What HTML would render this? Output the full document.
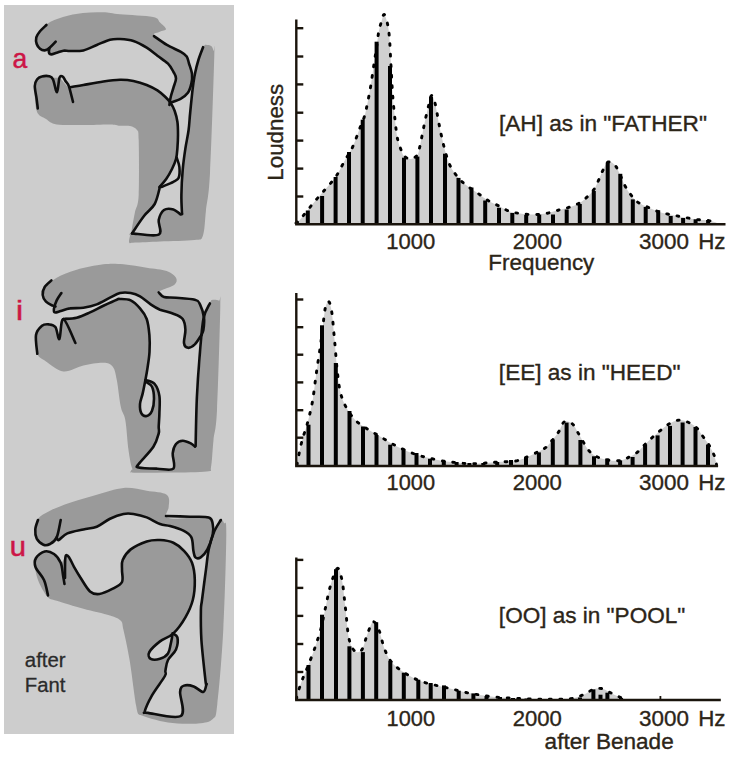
<!DOCTYPE html>
<html><head><meta charset="utf-8"><style>html,body{margin:0;padding:0;background:#fff;width:749px;height:771px;overflow:hidden}
text{font-family:"Liberation Sans",sans-serif}</style></head><body>
<svg width="749" height="771" viewBox="0 0 749 771" style="display:block">
<rect x="0" y="0" width="749" height="771" fill="#ffffff"/>
<rect x="4" y="5" width="230" height="729" fill="#cdcdcd"/>
<path d="M47.0 24.0 C51.4 20.9 57.0 18.8 63.0 17.0 C69.0 15.2 76.3 13.8 83.0 13.0 C89.7 12.2 96.8 12.1 103.0 12.3 C109.2 12.5 111.7 13.5 120.0 14.3 C128.3 15.1 146.3 15.7 153.0 17.0 C159.7 18.4 157.8 20.4 160.0 22.4 C162.2 24.4 166.0 27.4 166.0 29.0 C166.0 30.6 162.0 30.7 160.0 31.7 C158.0 32.7 152.8 32.8 154.0 35.0 C155.2 37.2 162.4 42.1 166.9 44.9 C171.4 47.7 177.6 50.0 180.9 51.9 C184.2 53.8 185.3 54.6 186.7 56.5 C188.0 58.4 188.1 60.6 189.0 63.5 C189.9 66.4 191.6 70.7 192.0 74.0 C192.4 77.3 192.1 80.3 191.4 83.4 C190.7 86.5 189.7 90.3 187.9 92.8 C186.2 95.3 183.8 96.9 180.9 98.6 C178.0 100.2 172.3 102.5 170.4 102.7 C168.5 102.9 168.9 102.5 169.4 100.0 C169.9 97.5 172.3 91.4 173.4 87.8 C174.5 84.2 176.0 81.1 176.0 78.4 C176.0 75.7 174.7 74.2 173.4 71.8 C172.1 69.3 170.7 66.4 168.0 63.7 C165.3 61.0 161.0 58.4 157.4 55.7 C153.8 53.0 150.7 50.2 146.7 47.7 C142.7 45.2 137.8 42.5 133.4 41.0 C129.0 39.5 123.9 39.2 120.0 39.0 C116.1 38.8 113.9 38.7 110.0 39.7 C106.1 40.7 101.2 43.2 96.8 45.0 C92.4 46.8 87.9 49.4 83.4 50.4 C78.9 51.4 74.5 50.6 70.0 51.0 C65.5 51.4 60.0 52.3 56.7 53.0 C53.4 53.7 51.8 55.4 50.0 55.0 C48.2 54.6 47.5 51.4 46.0 50.4 C44.5 49.4 42.4 50.1 40.7 49.0 C39.0 47.9 36.7 45.9 36.0 43.7 C35.3 41.5 34.9 39.0 36.7 35.7 C38.5 32.4 42.6 27.1 47.0 24.0Z" fill="#9a9a9a"/>
<path d="M36.7 111.0 C34.8 105.3 34.5 90.3 34.7 85.0 C34.9 79.7 36.1 80.4 38.0 79.0 C39.9 77.6 43.4 76.6 46.0 76.4 C48.6 76.2 51.1 77.5 53.4 77.8 C55.7 78.1 57.9 77.2 60.0 78.4 C62.1 79.6 64.3 83.5 66.0 85.0 C67.7 86.5 67.1 87.2 70.0 87.2 C72.9 87.2 77.8 86.0 83.4 85.0 C89.0 84.0 97.3 82.4 103.4 81.5 C109.5 80.6 115.0 79.9 120.0 79.8 C125.0 79.7 129.0 80.1 133.4 81.0 C137.8 81.9 142.7 83.4 146.7 85.0 C150.7 86.6 154.3 88.4 157.4 90.4 C160.5 92.4 163.2 94.9 165.4 97.0 C167.6 99.1 169.1 100.7 170.7 103.0 C172.2 105.3 173.6 107.9 174.7 111.0 C175.8 114.1 176.8 117.7 177.4 121.7 C178.0 125.7 178.0 130.6 178.0 135.0 C178.0 139.4 177.6 144.4 177.4 148.4 C177.2 152.4 177.4 155.9 176.7 159.0 C176.0 162.1 175.1 163.7 173.4 167.0 C171.7 170.3 169.0 175.7 166.7 179.0 C164.4 182.3 161.4 182.8 159.4 187.0 C157.4 191.2 157.3 199.2 154.7 204.0 C152.1 208.8 147.8 211.1 144.0 216.0 C140.2 220.9 134.2 230.1 132.0 233.4 C129.8 236.7 130.9 237.4 131.0 236.0 C131.1 234.6 131.8 229.0 132.5 225.0 C133.2 221.0 134.0 217.0 135.0 212.0 C136.0 207.0 138.1 207.0 138.7 195.0 C139.3 183.0 139.0 150.8 138.7 140.0 C138.4 129.2 138.4 132.3 137.0 130.0 C135.6 127.7 132.8 126.7 130.0 126.0 C127.2 125.3 123.3 126.0 120.0 125.7 C116.7 125.4 116.1 124.5 110.0 124.4 C103.9 124.3 92.3 125.0 83.4 125.0 C74.5 125.0 62.9 125.4 56.7 124.4 C50.5 123.4 49.3 121.2 46.0 119.0 C42.7 116.8 38.6 116.7 36.7 111.0Z" fill="#9a9a9a"/>
<path d="M129.3 242.7 C130.1 243.8 129.9 242.8 135.0 242.6 C140.1 242.4 150.1 241.8 160.0 241.4 C169.9 241.0 187.2 240.9 194.3 240.0 C201.5 239.1 201.0 240.7 202.9 235.7 C204.8 230.7 204.8 220.5 206.0 210.0 C207.2 199.5 208.6 198.6 210.0 172.9 C211.4 147.2 213.7 76.0 214.3 55.7 C214.9 35.4 214.1 52.6 213.6 51.0 C213.1 49.4 212.6 47.2 211.5 46.2 C210.4 45.2 208.3 44.9 207.0 45.0 C205.7 45.1 205.1 43.9 203.7 46.6 C202.3 49.3 200.3 55.5 198.8 61.0 C197.3 66.5 195.9 73.5 194.8 79.8 C193.7 86.0 192.9 91.5 192.0 98.5 C191.1 105.5 190.5 113.4 189.4 121.7 C188.3 130.0 186.5 140.4 185.4 148.4 C184.3 156.4 183.4 162.0 182.7 169.8 C182.0 177.6 181.5 187.6 181.4 195.0 C181.3 202.4 182.2 210.8 182.0 214.0 C181.8 217.2 181.4 214.8 180.0 214.0 C178.6 213.2 176.1 210.1 173.4 209.4 C170.7 208.7 166.4 208.2 164.0 210.0 C161.6 211.8 159.6 215.9 158.7 220.0 C157.8 224.1 163.1 232.5 158.7 234.7 C154.2 236.9 136.8 233.2 132.0 233.4 C127.2 233.6 130.4 234.4 130.0 236.0 C129.6 237.6 128.5 241.6 129.3 242.7Z" fill="#9a9a9a"/>
<path d="M46.4 25.0 C45.3 26.1 41.7 29.2 40.0 31.3 C38.3 33.4 36.8 35.3 36.3 37.4 C35.8 39.5 36.1 42.1 36.7 44.0 C37.3 45.9 38.7 47.6 40.0 48.7 C41.3 49.8 43.1 50.5 44.7 50.4 C46.3 50.3 47.6 49.5 49.4 48.0 C51.2 46.5 54.7 42.8 55.7 41.7" fill="none" stroke="#0e0e0e" stroke-width="2.6" stroke-linecap="round" stroke-linejoin="round"/>
<path d="M49.4 48.0 C49.3 48.8 48.7 51.6 49.0 52.7 C49.3 53.8 50.1 54.4 51.4 54.4 C52.7 54.4 54.7 53.3 56.7 52.7 C58.7 52.1 61.2 51.0 63.4 50.7 C65.6 50.4 66.7 51.0 70.0 51.0 C73.3 51.0 78.9 51.4 83.4 50.4 C87.9 49.4 92.4 46.8 96.8 45.0 C101.2 43.2 106.1 40.7 110.0 39.7 C113.9 38.7 116.1 38.8 120.0 39.0 C123.9 39.2 129.0 39.5 133.4 41.0 C137.8 42.5 142.7 45.2 146.7 47.7 C150.7 50.2 153.8 53.0 157.4 55.7 C161.0 58.4 165.3 61.0 168.0 63.7 C170.7 66.4 172.1 69.3 173.4 71.8 C174.7 74.2 176.0 75.7 176.0 78.4 C176.0 81.1 174.3 84.7 173.4 87.8 C172.5 90.9 171.4 94.1 170.7 97.0 C170.0 99.9 169.6 103.7 169.4 105.0" fill="none" stroke="#0e0e0e" stroke-width="2.6" stroke-linecap="round" stroke-linejoin="round"/>
<path d="M154.0 36.1 C156.2 37.6 162.4 42.3 166.9 44.9 C171.4 47.5 177.6 50.0 180.9 51.9 C184.2 53.8 185.3 54.6 186.7 56.5 C188.0 58.4 188.1 60.6 189.0 63.5 C189.9 66.4 191.6 70.7 192.0 74.0 C192.4 77.3 192.1 80.3 191.4 83.4 C190.7 86.5 189.7 90.3 187.9 92.8 C186.2 95.3 183.8 96.9 180.9 98.6 C178.0 100.2 172.2 102.0 170.4 102.7" fill="none" stroke="#0e0e0e" stroke-width="2.6" stroke-linecap="round" stroke-linejoin="round"/>
<path d="M37.8 108.5 C37.6 106.8 37.0 101.8 36.5 98.0 C36.0 94.2 34.7 89.1 34.8 86.0 C34.9 82.9 35.8 81.1 37.0 79.5 C38.2 77.9 39.8 77.1 41.8 76.6 C43.8 76.0 47.1 75.7 49.0 76.2 C50.9 76.7 51.7 76.7 53.0 79.4 C54.3 82.1 55.9 92.5 57.0 92.2 C58.1 91.9 58.5 80.4 59.5 77.8 C60.5 75.2 61.7 76.1 62.7 76.6 C63.7 77.1 64.5 79.3 65.5 81.0 C66.5 82.7 67.8 83.1 69.0 86.6 C70.2 90.1 72.3 99.4 73.0 101.9" fill="none" stroke="#0e0e0e" stroke-width="2.6" stroke-linecap="round" stroke-linejoin="round"/>
<path d="M70.0 87.2 C72.2 86.8 77.8 86.0 83.4 85.0 C89.0 84.0 97.3 82.4 103.4 81.5 C109.5 80.6 115.0 79.9 120.0 79.8 C125.0 79.7 129.0 80.1 133.4 81.0 C137.8 81.9 142.7 83.4 146.7 85.0 C150.7 86.6 154.3 88.4 157.4 90.4 C160.5 92.4 163.2 94.9 165.4 97.0 C167.6 99.1 169.1 100.7 170.7 103.0 C172.2 105.3 173.6 107.9 174.7 111.0 C175.8 114.1 176.8 117.7 177.4 121.7 C178.0 125.7 178.0 130.6 178.0 135.0 C178.0 139.4 177.7 144.4 177.4 148.4 C177.1 152.4 176.9 155.6 176.0 159.0 C175.1 162.4 173.6 165.7 172.0 169.0 C170.4 172.3 168.3 176.0 166.2 179.0 C164.1 182.0 160.5 185.7 159.4 187.0" fill="none" stroke="#0e0e0e" stroke-width="2.6" stroke-linecap="round" stroke-linejoin="round"/>
<path d="M203.1 47.2 C202.3 49.3 199.8 55.5 198.4 60.0 C197.0 64.5 195.9 69.1 194.9 74.0 C193.9 78.9 193.4 82.9 192.6 89.3 C191.8 95.7 190.9 105.7 190.2 112.5 C189.5 119.3 189.4 124.0 188.6 130.0 C187.8 136.0 186.4 141.8 185.4 148.4 C184.4 155.0 183.4 162.0 182.7 169.8 C182.0 177.6 181.5 187.6 181.4 195.0 C181.3 202.4 181.9 210.8 182.0 214.0" fill="none" stroke="#0e0e0e" stroke-width="2.6" stroke-linecap="round" stroke-linejoin="round"/>
<path d="M176.7 157.7 C177.1 159.2 179.1 163.7 179.4 167.0 C179.7 170.3 179.7 175.3 178.7 177.8 C177.7 180.3 176.3 180.3 173.4 181.8 C170.5 183.3 163.4 186.1 161.4 187.0" fill="none" stroke="#0e0e0e" stroke-width="2.6" stroke-linecap="round" stroke-linejoin="round"/>
<path d="M160.0 186.7 C159.1 189.6 157.4 199.1 154.7 204.0 C152.0 208.9 147.8 211.1 144.0 216.0 C140.2 220.9 134.0 230.5 132.0 233.4" fill="none" stroke="#0e0e0e" stroke-width="2.6" stroke-linecap="round" stroke-linejoin="round"/>
<path d="M132.0 233.4 C136.4 233.6 154.2 236.9 158.7 234.7 C163.1 232.5 157.8 224.1 158.7 220.0 C159.6 215.9 161.6 211.8 164.0 210.0 C166.4 208.2 170.7 208.7 173.4 209.4 C176.1 210.1 178.6 213.2 180.0 214.0 C181.4 214.8 181.7 214.0 182.0 214.0" fill="none" stroke="#0e0e0e" stroke-width="2.6" stroke-linecap="round" stroke-linejoin="round"/>
<path d="M44.7 288.4 C47.0 285.5 51.4 280.8 56.7 277.7 C62.0 274.6 68.9 271.9 76.7 269.7 C84.5 267.5 95.6 265.2 103.4 264.3 C111.2 263.4 116.3 263.7 123.5 264.3 C130.7 264.9 139.5 266.6 146.7 267.7 C153.9 268.8 161.8 269.3 166.7 271.0 C171.6 272.7 174.7 275.5 176.0 277.7 C177.3 279.9 176.9 282.4 174.7 284.4 C172.5 286.4 165.4 288.4 162.7 289.7 C160.0 291.0 158.5 291.2 158.7 292.4 C158.9 293.6 161.1 296.1 164.0 297.0 C166.9 297.9 170.9 297.2 176.0 297.7 C181.1 298.1 190.8 298.6 194.8 299.7 C198.8 300.8 198.5 301.4 200.0 304.4 C201.5 307.4 203.4 313.5 204.0 317.7 C204.6 321.9 203.8 326.9 203.4 329.8 C203.0 332.7 202.8 332.9 201.4 335.0 C200.0 337.1 197.0 340.6 194.8 342.7 C192.6 344.8 189.8 347.8 188.0 347.8 C186.2 347.9 184.4 346.0 184.0 343.0 C183.6 340.0 185.6 333.8 185.4 329.8 C185.2 325.8 184.7 321.7 182.7 319.0 C180.7 316.3 177.2 315.2 173.4 313.7 C169.6 312.1 163.8 311.2 160.0 309.7 C156.2 308.1 154.0 306.6 150.7 304.4 C147.4 302.2 143.3 298.3 140.0 296.4 C136.7 294.5 134.0 293.6 130.7 293.0 C127.4 292.4 123.5 292.2 120.0 293.0 C116.5 293.8 113.9 295.8 110.0 297.7 C106.1 299.6 101.2 302.7 96.8 304.4 C92.4 306.1 87.9 307.0 83.4 307.7 C78.9 308.4 73.8 307.8 70.0 308.4 C66.2 308.9 63.2 310.3 60.7 311.0 C58.2 311.7 56.0 313.3 54.7 312.4 C53.4 311.5 54.2 307.5 52.7 305.7 C51.2 303.9 47.7 303.5 46.0 301.7 C44.3 299.9 42.9 297.2 42.7 295.0 C42.5 292.8 42.4 291.3 44.7 288.4Z" fill="#9a9a9a"/>
<path d="M37.3 353.8 C35.6 349.4 35.2 339.7 36.0 335.0 C36.8 330.3 39.9 327.6 42.0 325.8 C44.1 324.0 46.5 324.2 48.7 324.4 C50.9 324.6 53.6 324.6 55.4 327.0 C57.2 329.4 58.1 340.3 59.4 339.0 C60.7 337.7 60.5 322.6 63.4 319.0 C66.3 315.4 72.3 318.8 76.7 317.7 C81.1 316.6 85.5 314.4 90.0 312.4 C94.5 310.4 98.9 307.8 103.4 305.7 C107.9 303.6 114.0 300.8 116.8 299.7 C119.6 298.6 117.7 298.9 120.0 299.0 C122.3 299.1 127.4 298.8 130.7 300.4 C134.0 302.0 137.3 305.3 140.0 308.4 C142.7 311.5 145.1 314.6 146.7 319.0 C148.3 323.4 148.9 329.5 149.4 335.0 C149.9 340.5 149.8 346.5 149.5 352.0 C149.2 357.5 148.2 363.3 147.5 368.0 C146.8 372.7 144.2 377.3 145.4 380.0 C146.6 382.7 152.4 381.3 154.7 384.0 C157.0 386.7 158.6 391.1 159.4 396.0 C160.2 400.9 159.5 408.3 159.4 413.4 C159.3 418.5 158.8 423.5 158.7 426.8 C158.6 430.1 159.6 430.1 158.7 433.4 C157.8 436.7 156.7 441.6 153.4 446.7 C150.1 451.8 141.1 460.6 138.7 464.0 C136.2 467.4 139.1 466.4 138.7 467.4 C138.2 468.4 137.1 469.9 136.0 470.0 C134.9 470.1 133.2 471.3 132.0 468.0 C130.8 464.7 129.6 458.0 128.5 450.0 C127.4 442.0 126.6 427.2 125.3 420.0 C124.0 412.8 122.2 413.5 120.8 406.8 C119.4 400.1 118.1 386.7 116.8 380.0 C115.5 373.3 115.0 369.6 112.8 366.7 C110.6 363.8 108.3 362.9 103.4 362.7 C98.5 362.5 90.1 363.9 83.4 365.4 C76.7 366.8 69.6 372.1 63.4 371.4 C57.2 370.7 50.4 364.3 46.0 361.4 C41.6 358.5 39.0 358.2 37.3 353.8Z" fill="#9a9a9a"/>
<path d="M145.4 381.4 C147.0 380.3 150.6 383.8 152.0 386.7 C153.4 389.6 154.0 394.7 154.0 398.7 C154.0 402.7 153.2 407.9 152.0 410.8 C150.8 413.7 148.5 415.6 146.7 416.0 C144.9 416.4 142.5 415.4 141.4 413.4 C140.3 411.4 139.8 407.3 140.0 404.0 C140.2 400.7 141.8 397.2 142.7 393.4 C143.6 389.6 143.8 382.5 145.4 381.4Z" fill="#cdcdcd"/>
<path d="M131.0 471.0 C131.2 471.6 127.5 472.4 134.0 472.7 C140.5 472.9 157.9 472.7 170.0 472.5 C182.1 472.3 200.0 472.3 206.8 471.4 C213.6 470.5 209.9 472.2 211.0 467.0 C212.1 461.8 212.5 449.5 213.5 440.0 C214.5 430.5 215.9 432.3 217.0 410.0 C218.1 387.7 220.0 324.2 220.3 306.0 C220.6 287.8 220.4 301.8 219.0 300.8 C217.6 299.8 213.5 299.6 212.0 300.0 C210.5 300.4 211.0 300.9 209.9 303.4 C208.8 305.9 206.6 310.6 205.4 315.0 C204.2 319.4 203.7 321.2 202.8 329.8 C201.9 338.4 200.9 356.1 200.0 366.7 C199.1 377.3 198.1 384.5 197.4 393.4 C196.7 402.3 196.3 411.1 196.0 420.0 C195.7 428.9 196.3 442.8 195.4 446.7 C194.5 450.6 192.9 444.4 190.8 443.4 C188.7 442.4 185.2 440.6 182.7 440.7 C180.2 440.8 177.7 441.9 176.0 444.0 C174.3 446.1 173.1 449.3 172.7 453.4 C172.3 457.5 175.9 466.1 173.4 468.7 C170.9 471.2 163.2 468.9 157.4 468.7 C151.6 468.5 142.8 467.3 138.7 467.4 C134.6 467.4 134.3 468.4 133.0 469.0 C131.7 469.6 130.8 470.4 131.0 471.0Z" fill="#9a9a9a"/>
<path d="M51.4 280.4 C50.3 281.5 46.2 284.6 44.7 287.0 C43.2 289.4 42.5 292.6 42.7 295.0 C42.9 297.4 44.3 299.9 46.0 301.7 C47.7 303.5 51.1 304.9 52.7 305.7 C54.3 306.5 55.0 306.4 55.5 306.5" fill="none" stroke="#0e0e0e" stroke-width="2.6" stroke-linecap="round" stroke-linejoin="round"/>
<path d="M61.4 293.0 C60.6 294.2 57.9 297.8 56.7 300.4 C55.5 303.0 54.3 306.4 54.0 308.4 C53.7 310.4 53.6 312.0 54.7 312.4 C55.8 312.8 58.2 311.7 60.7 311.0 C63.2 310.3 66.2 308.9 70.0 308.4 C73.8 307.8 78.9 308.4 83.4 307.7 C87.9 307.0 92.4 306.1 96.8 304.4 C101.2 302.7 106.1 299.6 110.0 297.7 C113.9 295.8 116.5 293.8 120.0 293.0 C123.5 292.2 127.4 292.4 130.7 293.0 C134.0 293.6 136.7 294.5 140.0 296.4 C143.3 298.3 147.4 302.2 150.7 304.4 C154.0 306.6 156.2 308.1 160.0 309.7 C163.8 311.2 169.6 312.1 173.4 313.7 C177.2 315.2 180.7 316.3 182.7 319.0 C184.7 321.7 185.2 325.8 185.4 329.8 C185.6 333.8 183.6 340.0 184.0 343.0 C184.4 346.0 186.2 347.6 188.0 347.8 C189.8 348.0 192.6 346.5 194.8 344.4 C197.0 342.3 200.3 336.6 201.4 335.0" fill="none" stroke="#0e0e0e" stroke-width="2.6" stroke-linecap="round" stroke-linejoin="round"/>
<path d="M158.7 292.4 C159.6 293.2 161.1 296.1 164.0 297.0 C166.9 297.9 170.9 297.2 176.0 297.7 C181.1 298.1 190.8 298.6 194.8 299.7 C198.8 300.8 198.5 301.4 200.0 304.4 C201.5 307.4 203.4 313.5 204.0 317.7 C204.6 321.9 203.8 326.9 203.4 329.8 C203.0 332.7 201.7 334.1 201.4 335.0" fill="none" stroke="#0e0e0e" stroke-width="2.6" stroke-linecap="round" stroke-linejoin="round"/>
<path d="M37.3 353.8 C37.1 350.7 35.2 339.7 36.0 335.0 C36.8 330.3 39.9 327.6 42.0 325.8 C44.1 324.0 46.5 324.2 48.7 324.4 C50.9 324.6 53.6 324.6 55.4 327.0 C57.2 329.4 58.1 340.3 59.4 339.0 C60.7 337.7 60.7 318.3 63.4 319.0 C66.1 319.7 73.4 339.0 75.4 343.0" fill="none" stroke="#0e0e0e" stroke-width="2.6" stroke-linecap="round" stroke-linejoin="round"/>
<path d="M63.4 319.0 C65.6 318.8 72.3 318.8 76.7 317.7 C81.1 316.6 85.5 314.4 90.0 312.4 C94.5 310.4 98.9 307.8 103.4 305.7 C107.9 303.6 114.0 300.8 116.8 299.7 C119.6 298.6 117.7 298.9 120.0 299.0 C122.3 299.1 127.4 298.8 130.7 300.4 C134.0 302.0 137.3 305.3 140.0 308.4 C142.7 311.5 145.1 314.6 146.7 319.0 C148.3 323.4 148.9 329.5 149.4 335.0 C149.9 340.5 149.8 346.5 149.5 352.0 C149.2 357.5 148.2 363.3 147.5 368.0 C146.8 372.7 146.2 375.8 145.4 380.0 C144.6 384.2 143.6 389.4 142.7 393.4 C141.8 397.4 140.2 400.7 140.0 404.0 C139.8 407.3 140.3 411.4 141.4 413.4 C142.5 415.4 144.9 416.4 146.7 416.0 C148.5 415.6 150.8 413.7 152.0 410.8 C153.2 407.9 154.0 402.7 154.0 398.7 C154.0 394.7 153.4 389.6 152.0 386.7 C150.6 383.8 146.5 382.3 145.4 381.4" fill="none" stroke="#0e0e0e" stroke-width="2.6" stroke-linecap="round" stroke-linejoin="round"/>
<path d="M145.4 380.0 C146.9 380.7 152.4 381.3 154.7 384.0 C157.0 386.7 158.6 391.1 159.4 396.0 C160.2 400.9 159.5 408.3 159.4 413.4 C159.3 418.5 158.8 423.5 158.7 426.8 C158.6 430.1 159.6 430.1 158.7 433.4 C157.8 436.7 156.7 441.6 153.4 446.7 C150.1 451.8 141.1 460.6 138.7 464.0 C136.2 467.4 135.6 466.6 138.7 467.4 C141.8 468.2 151.6 468.5 157.4 468.7 C163.2 468.9 170.9 471.2 173.4 468.7 C175.9 466.1 172.3 457.5 172.7 453.4 C173.1 449.3 174.3 446.1 176.0 444.0 C177.7 441.9 180.2 440.8 182.7 440.7 C185.2 440.6 188.8 442.4 190.8 443.4 C192.9 444.4 194.3 446.1 195.0 446.7" fill="none" stroke="#0e0e0e" stroke-width="2.6" stroke-linecap="round" stroke-linejoin="round"/>
<path d="M209.9 303.4 C208.8 306.0 205.1 309.9 203.4 319.0 C201.7 328.1 200.6 345.0 199.5 358.0 C198.4 371.0 197.6 382.3 196.9 397.0 C196.2 411.7 195.8 437.8 195.6 446.0" fill="none" stroke="#0e0e0e" stroke-width="2.6" stroke-linecap="round" stroke-linejoin="round"/>
<path d="M38.0 518.7 C40.5 515.6 44.7 513.4 50.0 510.7 C55.3 508.0 62.2 505.4 70.0 502.7 C77.8 500.0 87.9 497.1 96.8 494.7 C105.7 492.2 115.2 488.7 123.5 488.0 C131.8 487.3 139.5 489.6 146.7 490.7 C153.9 491.8 163.0 492.0 166.7 494.7 C170.4 497.4 168.8 503.1 168.7 506.7 C168.6 510.2 165.2 514.0 166.0 516.0 C166.8 518.0 169.9 518.4 173.4 518.7 C176.9 519.0 181.9 518.3 186.8 518.0 C191.7 517.7 198.8 516.4 202.8 516.7 C206.8 517.0 209.0 517.9 210.8 520.0 C212.6 522.1 213.3 526.3 213.5 529.4 C213.7 532.5 213.0 535.4 212.0 538.7 C211.0 542.0 209.3 546.3 207.4 549.4 C205.5 552.5 202.7 556.1 200.7 557.4 C198.7 558.7 196.6 558.5 195.4 557.4 C194.2 556.3 194.1 554.0 193.4 550.7 C192.7 547.4 193.1 540.7 191.4 537.4 C189.7 534.1 187.0 532.6 183.4 530.7 C179.8 528.8 173.9 527.1 170.0 526.0 C166.1 524.9 163.9 525.4 160.0 524.0 C156.1 522.6 151.1 519.1 146.7 517.4 C142.3 515.7 137.8 514.5 133.4 514.0 C129.0 513.5 123.9 513.9 120.0 514.7 C116.1 515.5 113.9 516.7 110.0 518.7 C106.1 520.7 101.2 524.9 96.8 526.7 C92.4 528.5 88.3 528.3 83.4 529.4 C78.5 530.5 71.5 531.6 67.4 533.4 C63.3 535.2 60.5 539.3 58.7 540.0 C56.9 540.7 58.2 536.7 56.7 537.4 C55.2 538.1 52.2 542.8 50.0 544.0 C47.8 545.2 45.6 545.6 43.4 544.7 C41.2 543.8 38.1 541.2 36.7 538.7 C35.4 536.2 35.1 532.7 35.3 529.4 C35.5 526.1 35.5 521.8 38.0 518.7Z" fill="#9a9a9a"/>
<path d="M47.4 596.7 C44.3 593.2 40.1 585.6 38.0 580.0 C35.9 574.4 34.7 567.0 34.7 562.8 C34.7 558.6 36.3 556.7 38.0 554.8 C39.7 552.9 42.0 551.5 44.7 551.4 C47.4 551.3 51.3 552.1 54.0 554.0 C56.7 555.9 58.9 562.1 60.7 562.8 C62.5 563.5 63.4 559.0 64.7 558.0 C66.0 557.0 67.2 555.3 68.7 556.8 C70.2 558.3 72.7 564.6 74.0 566.8 C75.3 569.0 75.1 567.7 76.7 570.0 C78.3 572.3 81.2 577.1 83.4 580.7 C85.6 584.3 87.3 589.2 90.0 591.4 C92.7 593.6 95.6 594.5 99.4 594.0 C103.2 593.5 109.0 590.7 112.8 588.7 C116.6 586.7 120.5 585.1 122.0 582.0 C123.5 578.9 121.9 573.7 122.0 570.0 C122.1 566.3 121.2 563.4 122.7 560.0 C124.2 556.6 126.7 552.5 130.7 549.4 C134.7 546.3 141.8 543.0 146.7 541.4 C151.6 539.8 155.6 539.8 160.0 540.0 C164.4 540.2 169.4 540.9 173.4 542.7 C177.4 544.5 180.9 547.4 184.0 550.8 C187.1 554.1 190.2 557.9 192.0 562.8 C193.8 567.7 194.7 573.8 194.8 580.0 C194.9 586.2 194.4 593.8 192.8 600.0 C191.2 606.2 188.6 611.8 185.4 617.4 C182.2 623.0 174.7 630.1 173.4 633.4 C172.1 636.7 177.0 634.7 177.4 637.4 C177.8 640.1 177.6 645.6 176.0 649.4 C174.4 653.2 169.8 656.4 168.0 660.0 C166.2 663.6 165.9 668.1 165.4 670.8 C164.9 673.5 167.1 671.9 164.9 676.0 C162.7 680.1 155.3 689.4 152.0 695.3 C148.7 701.2 146.9 708.1 144.8 711.3 C142.7 714.5 140.7 715.6 139.2 714.5 C137.7 713.4 137.6 714.0 136.0 704.9 C134.4 695.8 131.7 672.5 129.6 660.0 C127.5 647.5 125.0 636.5 123.5 630.0 C122.0 623.5 123.0 623.1 120.8 620.7 C118.5 618.3 116.2 617.4 110.0 615.4 C103.8 613.4 92.3 611.2 83.4 608.7 C74.5 606.2 62.7 602.7 56.7 600.7 C50.7 598.7 50.5 600.2 47.4 596.7Z" fill="#9a9a9a"/>
<path d="M173.4 633.4 C171.6 633.0 164.0 638.3 160.0 641.4 C156.0 644.5 151.0 649.1 149.4 652.0 C147.8 654.9 148.9 657.7 150.7 658.8 C152.5 659.9 157.1 659.7 160.0 658.8 C162.9 657.9 166.2 655.9 168.0 653.4 C169.8 650.9 169.8 647.3 170.7 644.0 C171.6 640.7 175.2 633.8 173.4 633.4Z" fill="#cdcdcd"/>
<path d="M139.2 714.5 C143.1 716.4 158.2 721.0 168.0 722.5 C177.8 724.0 190.5 724.0 198.0 723.4 C205.5 722.8 209.6 722.2 212.8 719.0 C216.0 715.8 215.6 718.9 217.3 704.0 C219.1 689.1 221.8 657.7 223.3 629.4 C224.8 601.1 226.2 551.7 226.3 534.0 C226.4 516.3 225.0 525.3 224.0 523.0 C223.0 520.7 222.0 518.9 220.3 520.4 C218.6 521.9 215.9 527.2 214.0 532.0 C212.1 536.8 210.0 543.2 208.7 549.4 C207.4 555.6 207.1 561.0 206.0 569.4 C204.9 577.8 202.8 593.2 202.0 600.0 C201.2 606.8 201.0 603.3 200.9 610.0 C200.8 616.7 200.7 628.3 201.4 640.0 C202.2 651.7 204.6 672.7 205.4 680.0 C206.2 687.3 206.8 682.0 206.5 684.0 C206.2 686.0 205.4 691.6 203.3 692.0 C201.2 692.4 196.9 687.5 193.7 686.4 C190.5 685.3 186.4 684.7 184.1 685.6 C181.8 686.5 180.6 686.9 180.1 692.0 C179.6 697.1 186.2 712.5 180.9 716.0 C175.6 719.5 154.0 713.7 148.0 712.9 C142.0 712.1 146.3 711.0 144.8 711.3 C143.3 711.6 135.3 712.6 139.2 714.5Z" fill="#9a9a9a"/>
<path d="M38.0 520.0 C37.5 521.6 35.5 526.3 35.3 529.4 C35.1 532.5 35.4 536.2 36.7 538.7 C38.1 541.2 41.2 543.8 43.4 544.7 C45.6 545.6 47.8 545.2 50.0 544.0 C52.2 542.8 54.9 541.4 56.7 537.4 C58.5 533.4 60.0 522.9 60.7 520.0" fill="none" stroke="#0e0e0e" stroke-width="2.6" stroke-linecap="round" stroke-linejoin="round"/>
<path d="M56.7 537.4 C57.0 537.8 56.9 540.7 58.7 540.0 C60.5 539.3 63.3 535.2 67.4 533.4 C71.5 531.6 78.5 530.5 83.4 529.4 C88.3 528.3 92.4 528.5 96.8 526.7 C101.2 524.9 105.5 520.8 110.0 518.7 C114.5 516.6 119.6 514.8 123.5 514.0 C127.4 513.2 129.5 513.4 133.4 514.0 C137.3 514.6 142.3 515.7 146.7 517.4 C151.1 519.1 156.1 522.6 160.0 524.0 C163.9 525.4 166.1 524.9 170.0 526.0 C173.9 527.1 179.8 528.8 183.4 530.7 C187.0 532.6 189.7 534.1 191.4 537.4 C193.1 540.7 192.7 547.4 193.4 550.7 C194.1 554.0 194.2 556.3 195.4 557.4 C196.6 558.5 198.7 558.7 200.7 557.4 C202.7 556.1 205.4 553.2 207.4 549.4 C209.4 545.6 211.8 538.9 212.7 534.7 C213.6 530.5 213.4 526.9 212.7 524.0 C212.0 521.1 212.5 518.6 208.7 517.4 C204.9 516.2 197.1 516.9 190.0 516.7 C182.9 516.5 170.0 516.1 166.0 516.0" fill="none" stroke="#0e0e0e" stroke-width="2.6" stroke-linecap="round" stroke-linejoin="round"/>
<path d="M48.0 595.4 C47.3 592.8 46.1 584.7 44.0 580.0 C41.9 575.3 36.8 570.7 35.5 567.0 C34.2 563.3 34.5 560.6 36.0 558.0 C37.5 555.4 41.7 552.1 44.7 551.4 C47.7 550.7 51.3 552.1 54.0 554.0 C56.7 555.9 59.2 559.3 60.7 562.8 C62.2 566.3 62.4 571.5 63.0 575.0 C63.6 578.5 64.2 582.5 64.5 584.0" fill="none" stroke="#0e0e0e" stroke-width="2.6" stroke-linecap="round" stroke-linejoin="round"/>
<path d="M65.0 578.0 C65.1 574.6 64.8 560.9 65.4 557.4 C66.0 553.9 67.3 555.2 68.7 556.8 C70.1 558.4 72.0 563.3 74.0 566.8 C76.0 570.3 78.0 573.9 80.7 578.0 C83.4 582.1 86.9 588.7 90.0 591.4 C93.1 594.1 95.6 594.5 99.4 594.0 C103.2 593.5 109.0 590.7 112.8 588.7 C116.6 586.7 120.5 585.1 122.0 582.0 C123.5 578.9 121.9 573.7 122.0 570.0 C122.1 566.3 121.2 563.4 122.7 560.0 C124.2 556.6 126.7 552.5 130.7 549.4 C134.7 546.3 141.8 543.0 146.7 541.4 C151.6 539.8 155.6 539.8 160.0 540.0 C164.4 540.2 169.4 540.9 173.4 542.7 C177.4 544.5 180.9 547.4 184.0 550.8 C187.1 554.1 190.2 557.9 192.0 562.8 C193.8 567.7 194.7 573.8 194.8 580.0 C194.9 586.2 194.4 593.8 192.8 600.0 C191.2 606.2 188.6 611.8 185.4 617.4 C182.2 623.0 177.6 629.4 173.4 633.4 C169.2 637.4 164.0 638.3 160.0 641.4 C156.0 644.5 151.0 649.1 149.4 652.0 C147.8 654.9 148.9 657.7 150.7 658.8 C152.5 659.9 157.1 659.7 160.0 658.8 C162.9 657.9 166.2 655.9 168.0 653.4 C169.8 650.9 169.9 647.3 170.7 644.0 C171.5 640.7 172.4 635.2 172.7 633.4" fill="none" stroke="#0e0e0e" stroke-width="2.6" stroke-linecap="round" stroke-linejoin="round"/>
<path d="M172.7 633.4 C173.5 634.1 176.8 634.7 177.4 637.4 C178.0 640.1 177.6 645.6 176.0 649.4 C174.4 653.2 169.8 656.4 168.0 660.0 C166.2 663.6 165.9 668.1 165.4 670.8 C164.9 673.5 167.1 671.9 164.9 676.0 C162.7 680.1 155.3 689.4 152.0 695.3 C148.7 701.2 145.5 708.4 144.8 711.3 C144.1 714.2 142.0 712.1 148.0 712.9 C154.0 713.7 175.6 719.5 180.9 716.0 C186.2 712.5 179.6 697.1 180.1 692.0 C180.6 686.9 181.8 686.5 184.1 685.6 C186.4 684.7 190.5 685.3 193.7 686.4 C196.9 687.5 201.2 692.4 203.3 692.0 C205.4 691.6 206.0 685.3 206.5 684.0" fill="none" stroke="#0e0e0e" stroke-width="2.6" stroke-linecap="round" stroke-linejoin="round"/>
<path d="M220.8 520.0 C219.7 522.0 216.0 527.1 214.0 532.0 C212.0 536.9 210.0 543.2 208.7 549.4 C207.4 555.6 207.1 561.0 206.0 569.4 C204.9 577.8 202.8 593.2 202.0 600.0 C201.2 606.8 201.0 603.3 200.9 610.0 C200.8 616.7 200.7 628.3 201.4 640.0 C202.2 651.7 204.6 672.7 205.4 680.0 C206.2 687.3 206.3 683.3 206.5 684.0" fill="none" stroke="#0e0e0e" stroke-width="2.6" stroke-linecap="round" stroke-linejoin="round"/>
<text x="12.48" y="67.90" font-size="27.5" fill="#cc1646" stroke="#cc1646" stroke-width="0.5" textLength="14.72" lengthAdjust="spacingAndGlyphs" >a</text>
<text x="16.07" y="320.00" font-size="27" fill="#cc1646" stroke="#cc1646" stroke-width="0.5" textLength="7.08" lengthAdjust="spacingAndGlyphs" >i</text>
<text x="9.70" y="555.60" font-size="27" fill="#cc1646" stroke="#cc1646" stroke-width="0.5" textLength="16.23" lengthAdjust="spacingAndGlyphs" >u</text>
<text x="24.83" y="667.00" font-size="20.5" fill="#2a2a2a" stroke="#2a2a2a" stroke-width="0.3" textLength="40.80" lengthAdjust="spacingAndGlyphs" >after</text>
<text x="24.84" y="692.30" font-size="20.5" fill="#2a2a2a" stroke="#2a2a2a" stroke-width="0.3" textLength="40.61" lengthAdjust="spacingAndGlyphs" >Fant</text>
<path d="M296.0 223.0 C296.7 222.4 297.3 222.8 300.0 219.7 C302.7 216.6 307.9 209.7 312.0 204.7 C316.1 199.7 321.0 194.3 324.9 189.7 C328.8 185.1 332.4 181.6 335.6 177.0 C338.8 172.4 341.2 167.0 344.0 162.0 C346.8 157.0 349.9 152.7 352.6 147.0 C355.3 141.3 358.0 132.9 360.0 127.8 C362.0 122.7 363.1 120.7 364.4 116.5 C365.7 112.3 366.5 107.8 367.6 102.6 C368.7 97.4 369.7 91.9 370.8 85.5 C371.9 79.1 373.0 70.4 374.0 64.0 C375.0 57.6 375.8 52.3 376.6 47.0 C377.4 41.7 377.9 36.3 378.7 32.0 C379.5 27.7 380.6 24.3 381.5 21.4 C382.4 18.5 383.2 13.8 384.3 14.5 C385.4 15.2 387.0 21.4 387.9 25.6 C388.8 29.9 389.2 34.8 389.6 40.0 C390.0 45.2 390.2 50.8 390.5 56.6 C390.8 62.4 391.2 69.1 391.5 75.0 C391.8 80.9 392.1 86.2 392.5 92.0 C392.9 97.8 393.2 102.7 394.0 110.0 C394.8 117.3 395.9 129.5 397.0 136.0 C398.1 142.5 399.5 145.7 400.7 149.0 C401.9 152.3 402.3 154.3 404.0 156.0 C405.7 157.7 408.8 159.2 411.0 159.0 C413.2 158.8 416.0 156.8 417.4 155.0 C418.8 153.2 418.7 151.2 419.5 148.0 C420.3 144.8 421.1 140.5 422.0 136.0 C422.9 131.5 423.9 126.0 425.0 121.0 C426.1 116.0 427.4 110.2 428.5 106.0 C429.6 101.8 430.4 96.0 431.5 95.5 C432.6 95.0 433.7 98.1 435.0 103.0 C436.3 107.9 438.1 119.5 439.2 124.9 C440.3 130.3 440.4 131.3 441.4 135.6 C442.4 139.9 443.6 145.5 445.0 150.5 C446.4 155.5 447.8 160.9 450.0 165.5 C452.2 170.1 455.7 174.6 458.5 178.0 C461.3 181.4 463.8 183.3 467.0 185.8 C470.2 188.3 474.1 190.7 477.7 193.2 C481.3 195.7 484.8 198.6 488.4 200.7 C491.9 202.8 495.4 204.2 499.0 206.0 C502.6 207.8 506.1 210.2 509.7 211.4 C513.3 212.7 516.5 213.0 520.4 213.5 C524.3 214.0 528.7 214.6 533.0 214.6 C537.3 214.6 541.7 214.3 546.0 213.5 C550.3 212.7 555.1 211.0 558.9 210.0 C562.7 209.0 565.4 208.5 568.7 207.4 C572.0 206.3 575.7 205.1 578.7 203.4 C581.7 201.7 584.2 199.7 586.7 197.4 C589.2 195.1 592.0 192.3 594.0 189.4 C596.0 186.5 597.2 183.1 598.7 180.0 C600.2 176.9 601.1 173.7 602.7 170.7 C604.3 167.7 606.1 162.7 608.3 162.0 C610.5 161.3 613.4 162.8 616.1 166.7 C618.9 170.6 622.3 180.7 624.8 185.4 C627.2 190.1 628.7 191.9 630.8 194.7 C632.9 197.5 634.4 199.8 637.5 202.0 C640.6 204.2 645.7 206.2 649.6 208.0 C653.5 209.8 657.2 211.4 661.0 212.6 C664.8 213.8 668.5 214.1 672.3 214.9 C676.1 215.7 679.7 216.4 683.7 217.2 C687.7 217.9 692.0 218.8 696.2 219.4 C700.4 220.0 705.3 220.0 708.7 220.6 C712.1 221.2 715.3 222.4 716.6 222.8 L716.6 224.3 L296.0 224.3 Z" fill="#d0d0d0"/>
<rect x="305.8" y="210.5" width="4.0" height="13.8" fill="#000"/>
<rect x="320.1" y="196.0" width="4.0" height="28.3" fill="#000"/>
<rect x="333.6" y="177.0" width="4.0" height="47.3" fill="#000"/>
<rect x="347.0" y="152.0" width="4.0" height="72.3" fill="#000"/>
<rect x="360.7" y="119.7" width="4.0" height="104.6" fill="#000"/>
<rect x="374.6" y="41.7" width="4.0" height="182.6" fill="#000"/>
<rect x="388.0" y="66.0" width="4.0" height="158.3" fill="#000"/>
<rect x="402.0" y="157.7" width="4.0" height="66.6" fill="#000"/>
<rect x="415.4" y="156.6" width="4.0" height="67.7" fill="#000"/>
<rect x="429.0" y="97.0" width="4.0" height="127.3" fill="#000"/>
<rect x="443.0" y="153.7" width="4.0" height="70.6" fill="#000"/>
<rect x="456.5" y="177.9" width="4.0" height="46.4" fill="#000"/>
<rect x="469.5" y="187.5" width="4.0" height="36.8" fill="#000"/>
<rect x="483.2" y="200.5" width="4.0" height="23.8" fill="#000"/>
<rect x="497.0" y="207.8" width="4.0" height="16.5" fill="#000"/>
<rect x="510.3" y="213.0" width="4.0" height="11.3" fill="#000"/>
<rect x="524.2" y="215.0" width="4.0" height="9.3" fill="#000"/>
<rect x="537.2" y="214.6" width="4.0" height="9.7" fill="#000"/>
<rect x="551.0" y="214.5" width="4.0" height="9.8" fill="#000"/>
<rect x="564.7" y="209.5" width="4.0" height="14.8" fill="#000"/>
<rect x="577.8" y="204.0" width="4.0" height="20.3" fill="#000"/>
<rect x="591.8" y="191.0" width="4.0" height="33.3" fill="#000"/>
<rect x="605.7" y="162.5" width="4.0" height="61.8" fill="#000"/>
<rect x="618.3" y="173.8" width="4.0" height="50.5" fill="#000"/>
<rect x="630.8" y="199.4" width="4.0" height="24.9" fill="#000"/>
<rect x="643.7" y="207.0" width="4.0" height="17.3" fill="#000"/>
<rect x="656.2" y="210.3" width="4.0" height="14.0" fill="#000"/>
<rect x="668.7" y="216.0" width="4.0" height="8.3" fill="#000"/>
<rect x="681.1" y="218.0" width="4.0" height="6.3" fill="#000"/>
<rect x="693.6" y="219.3" width="4.0" height="5.0" fill="#000"/>
<rect x="706.1" y="220.0" width="4.0" height="4.3" fill="#000"/>
<path d="M296.0 223.0 C296.7 222.4 297.3 222.8 300.0 219.7 C302.7 216.6 307.9 209.7 312.0 204.7 C316.1 199.7 321.0 194.3 324.9 189.7 C328.8 185.1 332.4 181.6 335.6 177.0 C338.8 172.4 341.2 167.0 344.0 162.0 C346.8 157.0 349.9 152.7 352.6 147.0 C355.3 141.3 358.0 132.9 360.0 127.8 C362.0 122.7 363.1 120.7 364.4 116.5 C365.7 112.3 366.5 107.8 367.6 102.6 C368.7 97.4 369.7 91.9 370.8 85.5 C371.9 79.1 373.0 70.4 374.0 64.0 C375.0 57.6 375.8 52.3 376.6 47.0 C377.4 41.7 377.9 36.3 378.7 32.0 C379.5 27.7 380.6 24.3 381.5 21.4 C382.4 18.5 383.2 13.8 384.3 14.5 C385.4 15.2 387.0 21.4 387.9 25.6 C388.8 29.9 389.2 34.8 389.6 40.0 C390.0 45.2 390.2 50.8 390.5 56.6 C390.8 62.4 391.2 69.1 391.5 75.0 C391.8 80.9 392.1 86.2 392.5 92.0 C392.9 97.8 393.2 102.7 394.0 110.0 C394.8 117.3 395.9 129.5 397.0 136.0 C398.1 142.5 399.5 145.7 400.7 149.0 C401.9 152.3 402.3 154.3 404.0 156.0 C405.7 157.7 408.8 159.2 411.0 159.0 C413.2 158.8 416.0 156.8 417.4 155.0 C418.8 153.2 418.7 151.2 419.5 148.0 C420.3 144.8 421.1 140.5 422.0 136.0 C422.9 131.5 423.9 126.0 425.0 121.0 C426.1 116.0 427.4 110.2 428.5 106.0 C429.6 101.8 430.4 96.0 431.5 95.5 C432.6 95.0 433.7 98.1 435.0 103.0 C436.3 107.9 438.1 119.5 439.2 124.9 C440.3 130.3 440.4 131.3 441.4 135.6 C442.4 139.9 443.6 145.5 445.0 150.5 C446.4 155.5 447.8 160.9 450.0 165.5 C452.2 170.1 455.7 174.6 458.5 178.0 C461.3 181.4 463.8 183.3 467.0 185.8 C470.2 188.3 474.1 190.7 477.7 193.2 C481.3 195.7 484.8 198.6 488.4 200.7 C491.9 202.8 495.4 204.2 499.0 206.0 C502.6 207.8 506.1 210.2 509.7 211.4 C513.3 212.7 516.5 213.0 520.4 213.5 C524.3 214.0 528.7 214.6 533.0 214.6 C537.3 214.6 541.7 214.3 546.0 213.5 C550.3 212.7 555.1 211.0 558.9 210.0 C562.7 209.0 565.4 208.5 568.7 207.4 C572.0 206.3 575.7 205.1 578.7 203.4 C581.7 201.7 584.2 199.7 586.7 197.4 C589.2 195.1 592.0 192.3 594.0 189.4 C596.0 186.5 597.2 183.1 598.7 180.0 C600.2 176.9 601.1 173.7 602.7 170.7 C604.3 167.7 606.1 162.7 608.3 162.0 C610.5 161.3 613.4 162.8 616.1 166.7 C618.9 170.6 622.3 180.7 624.8 185.4 C627.2 190.1 628.7 191.9 630.8 194.7 C632.9 197.5 634.4 199.8 637.5 202.0 C640.6 204.2 645.7 206.2 649.6 208.0 C653.5 209.8 657.2 211.4 661.0 212.6 C664.8 213.8 668.5 214.1 672.3 214.9 C676.1 215.7 679.7 216.4 683.7 217.2 C687.7 217.9 692.0 218.8 696.2 219.4 C700.4 220.0 705.3 220.0 708.7 220.6 C712.1 221.2 715.3 222.4 716.6 222.8" fill="none" stroke="#000" stroke-width="2.9" stroke-dasharray="1.8 8.7" stroke-linecap="round"/>
<path d="M296.3 19.5 L296.3 224.3 L725.5 224.3" fill="none" stroke="#1a140c" stroke-width="2.4"/>
<path d="M296.3 28.2 L303.3 28.2" stroke="#1a140c" stroke-width="2.4"/>
<path d="M296.3 56.5 L303.3 56.5" stroke="#1a140c" stroke-width="2.4"/>
<path d="M296.3 84.4 L303.3 84.4" stroke="#1a140c" stroke-width="2.4"/>
<path d="M296.3 112.7 L303.3 112.7" stroke="#1a140c" stroke-width="2.4"/>
<path d="M296.3 140.6 L303.3 140.6" stroke="#1a140c" stroke-width="2.4"/>
<path d="M296.3 168.6 L303.3 168.6" stroke="#1a140c" stroke-width="2.4"/>
<path d="M296.3 196.5 L303.3 196.5" stroke="#1a140c" stroke-width="2.4"/>
<text x="498.91" y="130.80" font-size="22" fill="#2c2518" stroke="#2c2518" stroke-width="0.35" textLength="208.04" lengthAdjust="spacingAndGlyphs" >[AH] as in "FATHER"</text>
<text x="386.32" y="249.20" font-size="22" fill="#2c2518" stroke="#2c2518" stroke-width="0.35" textLength="49.04" lengthAdjust="spacingAndGlyphs" >1000</text>
<text x="512.69" y="249.20" font-size="22" fill="#2c2518" stroke="#2c2518" stroke-width="0.35" textLength="49.28" lengthAdjust="spacingAndGlyphs" >2000</text>
<text x="639.05" y="249.20" font-size="22" fill="#2c2518" stroke="#2c2518" stroke-width="0.35" textLength="49.93" lengthAdjust="spacingAndGlyphs" >3000</text>
<text x="698.16" y="249.20" font-size="22" fill="#2c2518" stroke="#2c2518" stroke-width="0.35" textLength="27.35" lengthAdjust="spacingAndGlyphs" >Hz</text>
<text x="488.36" y="270.20" font-size="22" fill="#2c2518" stroke="#2c2518" stroke-width="0.35" textLength="105.98" lengthAdjust="spacingAndGlyphs" >Frequency</text>
<text transform="translate(283.3,179.5) rotate(-90)" x="-1.23" y="0" font-size="22" fill="#2c2518" stroke="#2c2518" stroke-width="0.35" textLength="96.94" lengthAdjust="spacingAndGlyphs">Loudness</text>
<path d="M297.0 465.0 C297.2 464.0 297.2 463.0 298.0 459.0 C298.8 455.0 300.5 446.6 302.0 440.8 C303.5 435.0 305.5 430.5 307.2 424.0 C308.9 417.5 310.9 410.3 312.4 401.9 C313.9 393.5 315.0 382.5 316.3 373.4 C317.6 364.3 319.1 355.2 320.2 347.4 C321.3 339.6 321.9 333.3 322.8 326.7 C323.7 320.1 324.4 311.7 325.4 307.5 C326.4 303.3 327.7 300.7 328.8 301.6 C329.9 302.5 330.9 306.7 331.9 313.0 C332.8 319.3 333.6 330.4 334.5 339.6 C335.4 348.8 336.1 359.6 337.0 368.2 C337.9 376.8 338.7 385.0 340.2 391.5 C341.7 398.0 343.5 402.2 346.0 407.0 C348.5 411.8 351.9 416.5 355.2 420.0 C358.5 423.5 361.7 425.2 365.6 427.8 C369.5 430.4 374.2 433.0 378.5 435.6 C382.8 438.2 387.2 441.0 391.5 443.4 C395.8 445.8 400.2 448.0 404.5 449.9 C408.8 451.8 413.5 453.7 417.4 455.0 C421.3 456.3 423.8 456.8 428.0 457.8 C432.2 458.8 438.1 460.2 442.7 461.0 C447.3 461.8 451.0 462.0 455.6 462.5 C460.2 463.0 465.5 463.7 470.5 463.8 C475.5 463.9 480.9 463.3 485.5 463.0 C490.1 462.7 493.3 462.3 498.3 462.0 C503.3 461.7 510.8 461.8 515.4 461.0 C520.0 460.2 522.1 459.0 526.0 457.4 C529.9 455.8 535.5 453.1 538.9 451.4 C542.3 449.7 544.1 449.0 546.4 447.0 C548.7 445.0 550.7 442.3 552.8 439.6 C554.9 436.9 557.3 434.0 559.2 431.0 C561.1 428.0 562.1 423.0 564.3 421.8 C566.5 420.6 570.2 422.1 572.5 424.0 C574.8 425.9 575.6 428.7 578.2 433.0 C580.9 437.3 585.2 446.0 588.4 450.0 C591.6 454.0 593.8 455.3 597.4 457.0 C601.0 458.7 606.0 459.8 610.0 460.4 C614.0 461.0 618.3 460.9 621.3 460.4 C624.3 459.9 625.4 458.9 628.0 457.6 C630.6 456.3 634.4 454.6 637.2 452.4 C640.0 450.2 642.5 446.9 645.0 444.5 C647.5 442.1 649.5 440.0 652.0 437.7 C654.5 435.4 657.1 433.2 659.9 430.9 C662.7 428.6 666.0 425.8 669.0 424.0 C672.0 422.2 675.0 420.6 678.0 420.2 C681.0 419.8 684.0 420.6 687.0 421.8 C690.0 423.0 693.5 424.9 696.2 427.4 C698.9 429.8 700.9 433.6 703.0 436.5 C705.1 439.4 706.8 441.3 708.7 444.5 C710.6 447.7 713.0 452.4 714.3 455.8 C715.6 459.2 716.2 463.5 716.6 465.0 L716.6 466.0 L297.0 466.0 Z" fill="#d0d0d0"/>
<rect x="306.5" y="424.7" width="4.0" height="41.3" fill="#000"/>
<rect x="320.0" y="325.3" width="4.0" height="140.7" fill="#000"/>
<rect x="333.8" y="363.0" width="4.0" height="103.0" fill="#000"/>
<rect x="347.5" y="411.0" width="4.0" height="55.0" fill="#000"/>
<rect x="361.0" y="426.5" width="4.0" height="39.5" fill="#000"/>
<rect x="374.5" y="435.0" width="4.0" height="31.0" fill="#000"/>
<rect x="388.2" y="444.7" width="4.0" height="21.3" fill="#000"/>
<rect x="401.5" y="449.2" width="4.0" height="16.8" fill="#000"/>
<rect x="414.5" y="453.0" width="4.0" height="13.0" fill="#000"/>
<rect x="428.0" y="458.8" width="4.0" height="7.2" fill="#000"/>
<rect x="441.8" y="461.0" width="4.0" height="5.0" fill="#000"/>
<rect x="454.6" y="462.0" width="4.0" height="4.0" fill="#000"/>
<rect x="467.4" y="463.0" width="4.0" height="3.0" fill="#000"/>
<rect x="481.3" y="463.0" width="4.0" height="3.0" fill="#000"/>
<rect x="495.2" y="462.0" width="4.0" height="4.0" fill="#000"/>
<rect x="509.0" y="460.0" width="4.0" height="6.0" fill="#000"/>
<rect x="524.0" y="457.8" width="4.0" height="8.2" fill="#000"/>
<rect x="536.9" y="452.4" width="4.0" height="13.6" fill="#000"/>
<rect x="550.8" y="439.6" width="4.0" height="26.4" fill="#000"/>
<rect x="564.6" y="422.6" width="4.0" height="43.4" fill="#000"/>
<rect x="578.4" y="440.0" width="4.0" height="26.0" fill="#000"/>
<rect x="592.0" y="456.3" width="4.0" height="9.7" fill="#000"/>
<rect x="605.2" y="458.5" width="4.0" height="7.5" fill="#000"/>
<rect x="618.1" y="460.4" width="4.0" height="5.6" fill="#000"/>
<rect x="630.6" y="457.0" width="4.0" height="9.0" fill="#000"/>
<rect x="643.1" y="444.5" width="4.0" height="21.5" fill="#000"/>
<rect x="655.6" y="435.4" width="4.0" height="30.6" fill="#000"/>
<rect x="668.0" y="425.9" width="4.0" height="40.1" fill="#000"/>
<rect x="680.6" y="422.5" width="4.0" height="43.5" fill="#000"/>
<rect x="693.5" y="427.0" width="4.0" height="39.0" fill="#000"/>
<rect x="706.0" y="444.5" width="4.0" height="21.5" fill="#000"/>
<path d="M297.0 465.0 C297.2 464.0 297.2 463.0 298.0 459.0 C298.8 455.0 300.5 446.6 302.0 440.8 C303.5 435.0 305.5 430.5 307.2 424.0 C308.9 417.5 310.9 410.3 312.4 401.9 C313.9 393.5 315.0 382.5 316.3 373.4 C317.6 364.3 319.1 355.2 320.2 347.4 C321.3 339.6 321.9 333.3 322.8 326.7 C323.7 320.1 324.4 311.7 325.4 307.5 C326.4 303.3 327.7 300.7 328.8 301.6 C329.9 302.5 330.9 306.7 331.9 313.0 C332.8 319.3 333.6 330.4 334.5 339.6 C335.4 348.8 336.1 359.6 337.0 368.2 C337.9 376.8 338.7 385.0 340.2 391.5 C341.7 398.0 343.5 402.2 346.0 407.0 C348.5 411.8 351.9 416.5 355.2 420.0 C358.5 423.5 361.7 425.2 365.6 427.8 C369.5 430.4 374.2 433.0 378.5 435.6 C382.8 438.2 387.2 441.0 391.5 443.4 C395.8 445.8 400.2 448.0 404.5 449.9 C408.8 451.8 413.5 453.7 417.4 455.0 C421.3 456.3 423.8 456.8 428.0 457.8 C432.2 458.8 438.1 460.2 442.7 461.0 C447.3 461.8 451.0 462.0 455.6 462.5 C460.2 463.0 465.5 463.7 470.5 463.8 C475.5 463.9 480.9 463.3 485.5 463.0 C490.1 462.7 493.3 462.3 498.3 462.0 C503.3 461.7 510.8 461.8 515.4 461.0 C520.0 460.2 522.1 459.0 526.0 457.4 C529.9 455.8 535.5 453.1 538.9 451.4 C542.3 449.7 544.1 449.0 546.4 447.0 C548.7 445.0 550.7 442.3 552.8 439.6 C554.9 436.9 557.3 434.0 559.2 431.0 C561.1 428.0 562.1 423.0 564.3 421.8 C566.5 420.6 570.2 422.1 572.5 424.0 C574.8 425.9 575.6 428.7 578.2 433.0 C580.9 437.3 585.2 446.0 588.4 450.0 C591.6 454.0 593.8 455.3 597.4 457.0 C601.0 458.7 606.0 459.8 610.0 460.4 C614.0 461.0 618.3 460.9 621.3 460.4 C624.3 459.9 625.4 458.9 628.0 457.6 C630.6 456.3 634.4 454.6 637.2 452.4 C640.0 450.2 642.5 446.9 645.0 444.5 C647.5 442.1 649.5 440.0 652.0 437.7 C654.5 435.4 657.1 433.2 659.9 430.9 C662.7 428.6 666.0 425.8 669.0 424.0 C672.0 422.2 675.0 420.6 678.0 420.2 C681.0 419.8 684.0 420.6 687.0 421.8 C690.0 423.0 693.5 424.9 696.2 427.4 C698.9 429.8 700.9 433.6 703.0 436.5 C705.1 439.4 706.8 441.3 708.7 444.5 C710.6 447.7 713.0 452.4 714.3 455.8 C715.6 459.2 716.2 463.5 716.6 465.0" fill="none" stroke="#000" stroke-width="2.9" stroke-dasharray="1.8 8.7" stroke-linecap="round"/>
<path d="M296.3 293 L296.3 466 L718.1 466" fill="none" stroke="#1a140c" stroke-width="2.4"/>
<path d="M296.3 299.5 L303.3 299.5" stroke="#1a140c" stroke-width="2.4"/>
<path d="M296.3 327.2 L303.3 327.2" stroke="#1a140c" stroke-width="2.4"/>
<path d="M296.3 354.7 L303.3 354.7" stroke="#1a140c" stroke-width="2.4"/>
<path d="M296.3 382.4 L303.3 382.4" stroke="#1a140c" stroke-width="2.4"/>
<path d="M296.3 410.2 L303.3 410.2" stroke="#1a140c" stroke-width="2.4"/>
<path d="M296.3 437.7 L303.3 437.7" stroke="#1a140c" stroke-width="2.4"/>
<text x="498.89" y="380.00" font-size="22" fill="#2c2518" stroke="#2c2518" stroke-width="0.35" textLength="181.57" lengthAdjust="spacingAndGlyphs" >[EE] as in "HEED"</text>
<text x="386.54" y="490.40" font-size="22" fill="#2c2518" stroke="#2c2518" stroke-width="0.35" textLength="48.51" lengthAdjust="spacingAndGlyphs" >1000</text>
<text x="512.69" y="490.40" font-size="22" fill="#2c2518" stroke="#2c2518" stroke-width="0.35" textLength="49.18" lengthAdjust="spacingAndGlyphs" >2000</text>
<text x="639.05" y="490.40" font-size="22" fill="#2c2518" stroke="#2c2518" stroke-width="0.35" textLength="49.93" lengthAdjust="spacingAndGlyphs" >3000</text>
<text x="698.16" y="490.40" font-size="22" fill="#2c2518" stroke="#2c2518" stroke-width="0.35" textLength="27.35" lengthAdjust="spacingAndGlyphs" >Hz</text>
<path d="M296.5 699.0 C296.7 698.2 296.6 697.4 297.5 694.2 C298.4 691.0 300.4 684.7 302.2 680.0 C303.9 675.3 305.9 671.4 308.0 666.0 C310.1 660.6 312.9 653.7 315.0 647.5 C317.1 641.3 319.1 635.4 320.9 628.8 C322.6 622.2 323.9 614.7 325.5 607.7 C327.1 600.7 328.2 593.2 330.2 586.7 C332.1 580.2 335.2 569.7 337.2 568.5 C339.1 567.3 340.5 573.2 341.9 579.7 C343.3 586.2 344.2 598.0 345.4 607.7 C346.6 617.4 347.3 630.9 348.9 638.1 C350.4 645.3 352.5 649.0 354.7 651.0 C356.9 653.0 359.6 652.7 361.8 649.8 C364.0 646.9 365.7 638.1 367.6 633.4 C369.5 628.7 371.4 622.2 373.4 621.8 C375.3 621.4 377.5 626.7 379.3 631.0 C381.1 635.3 382.1 642.4 384.0 647.5 C385.9 652.6 388.1 657.6 391.0 661.5 C393.9 665.4 397.8 668.1 401.5 670.8 C405.2 673.5 409.2 675.8 413.1 677.8 C417.0 679.8 420.5 681.1 424.8 682.5 C429.1 683.9 434.3 684.9 438.8 686.0 C443.3 687.1 447.5 687.9 452.0 689.0 C456.5 690.1 461.3 691.5 466.0 692.5 C470.7 693.5 475.2 694.2 480.0 695.0 C484.8 695.8 490.0 696.5 495.0 697.0 C500.0 697.5 504.2 697.7 510.0 698.0 C515.8 698.3 523.3 698.8 530.0 699.0 C536.7 699.2 543.3 699.2 550.0 699.2 C556.7 699.2 564.3 699.6 570.0 698.8 C575.7 698.0 580.2 696.0 584.0 694.5 C587.8 693.0 589.9 690.5 593.0 689.5 C596.1 688.5 599.4 688.0 602.7 688.7 C606.0 689.5 609.6 692.5 612.8 694.0 C616.0 695.5 619.8 697.1 622.0 698.0 C624.2 698.9 625.3 699.2 626.0 699.5 L626.0 700.0 L296.5 700.0 Z" fill="#d0d0d0"/>
<rect x="306.5" y="665.0" width="4.0" height="35.0" fill="#000"/>
<rect x="320.0" y="614.7" width="4.0" height="85.3" fill="#000"/>
<rect x="334.0" y="569.2" width="4.0" height="130.8" fill="#000"/>
<rect x="347.4" y="646.3" width="4.0" height="53.7" fill="#000"/>
<rect x="360.9" y="652.1" width="4.0" height="47.9" fill="#000"/>
<rect x="374.2" y="622.2" width="4.0" height="77.8" fill="#000"/>
<rect x="388.3" y="661.0" width="4.0" height="39.0" fill="#000"/>
<rect x="401.8" y="672.7" width="4.0" height="27.3" fill="#000"/>
<rect x="416.3" y="679.7" width="4.0" height="20.3" fill="#000"/>
<rect x="428.7" y="683.0" width="4.0" height="17.0" fill="#000"/>
<rect x="442.0" y="685.4" width="4.0" height="14.6" fill="#000"/>
<rect x="456.7" y="690.7" width="4.0" height="9.3" fill="#000"/>
<rect x="471.4" y="693.4" width="4.0" height="6.6" fill="#000"/>
<rect x="484.5" y="696.0" width="4.0" height="4.0" fill="#000"/>
<rect x="498.0" y="697.0" width="4.0" height="3.0" fill="#000"/>
<rect x="511.0" y="698.0" width="4.0" height="2.0" fill="#000"/>
<rect x="524.5" y="698.5" width="4.0" height="1.5" fill="#000"/>
<rect x="538.0" y="698.5" width="4.0" height="1.5" fill="#000"/>
<rect x="551.0" y="699.0" width="4.0" height="1.0" fill="#000"/>
<rect x="564.5" y="699.0" width="4.0" height="1.0" fill="#000"/>
<rect x="578.0" y="697.5" width="4.0" height="2.5" fill="#000"/>
<rect x="591.4" y="689.4" width="4.0" height="10.6" fill="#000"/>
<rect x="598.5" y="694.7" width="4.0" height="5.3" fill="#000"/>
<rect x="605.4" y="692.7" width="4.0" height="7.3" fill="#000"/>
<rect x="619.0" y="698.0" width="4.0" height="2.0" fill="#000"/>
<path d="M296.5 699.0 C296.7 698.2 296.6 697.4 297.5 694.2 C298.4 691.0 300.4 684.7 302.2 680.0 C303.9 675.3 305.9 671.4 308.0 666.0 C310.1 660.6 312.9 653.7 315.0 647.5 C317.1 641.3 319.1 635.4 320.9 628.8 C322.6 622.2 323.9 614.7 325.5 607.7 C327.1 600.7 328.2 593.2 330.2 586.7 C332.1 580.2 335.2 569.7 337.2 568.5 C339.1 567.3 340.5 573.2 341.9 579.7 C343.3 586.2 344.2 598.0 345.4 607.7 C346.6 617.4 347.3 630.9 348.9 638.1 C350.4 645.3 352.5 649.0 354.7 651.0 C356.9 653.0 359.6 652.7 361.8 649.8 C364.0 646.9 365.7 638.1 367.6 633.4 C369.5 628.7 371.4 622.2 373.4 621.8 C375.3 621.4 377.5 626.7 379.3 631.0 C381.1 635.3 382.1 642.4 384.0 647.5 C385.9 652.6 388.1 657.6 391.0 661.5 C393.9 665.4 397.8 668.1 401.5 670.8 C405.2 673.5 409.2 675.8 413.1 677.8 C417.0 679.8 420.5 681.1 424.8 682.5 C429.1 683.9 434.3 684.9 438.8 686.0 C443.3 687.1 447.5 687.9 452.0 689.0 C456.5 690.1 461.3 691.5 466.0 692.5 C470.7 693.5 475.2 694.2 480.0 695.0 C484.8 695.8 490.0 696.5 495.0 697.0 C500.0 697.5 504.2 697.7 510.0 698.0 C515.8 698.3 523.3 698.8 530.0 699.0 C536.7 699.2 543.3 699.2 550.0 699.2 C556.7 699.2 564.3 699.6 570.0 698.8 C575.7 698.0 580.2 696.0 584.0 694.5 C587.8 693.0 589.9 690.5 593.0 689.5 C596.1 688.5 599.4 688.0 602.7 688.7 C606.0 689.5 609.6 692.5 612.8 694.0 C616.0 695.5 619.8 697.1 622.0 698.0 C624.2 698.9 625.3 699.2 626.0 699.5" fill="none" stroke="#000" stroke-width="2.9" stroke-dasharray="1.8 8.7" stroke-linecap="round"/>
<path d="M296.3 557.5 L296.3 700 L720.8 700" fill="none" stroke="#1a140c" stroke-width="2.4"/>
<path d="M296.3 559.9 L303.3 559.9" stroke="#1a140c" stroke-width="2.4"/>
<path d="M296.3 587.9 L303.3 587.9" stroke="#1a140c" stroke-width="2.4"/>
<path d="M296.3 615.9 L303.3 615.9" stroke="#1a140c" stroke-width="2.4"/>
<path d="M296.3 644 L303.3 644" stroke="#1a140c" stroke-width="2.4"/>
<path d="M296.3 672 L303.3 672" stroke="#1a140c" stroke-width="2.4"/>
<text x="498.89" y="623.40" font-size="22" fill="#2c2518" stroke="#2c2518" stroke-width="0.35" textLength="186.36" lengthAdjust="spacingAndGlyphs" >[OO] as in "POOL"</text>
<text x="386.54" y="725.60" font-size="22" fill="#2c2518" stroke="#2c2518" stroke-width="0.35" textLength="48.51" lengthAdjust="spacingAndGlyphs" >1000</text>
<text x="512.69" y="725.60" font-size="22" fill="#2c2518" stroke="#2c2518" stroke-width="0.35" textLength="49.18" lengthAdjust="spacingAndGlyphs" >2000</text>
<text x="639.05" y="725.60" font-size="22" fill="#2c2518" stroke="#2c2518" stroke-width="0.35" textLength="49.93" lengthAdjust="spacingAndGlyphs" >3000</text>
<text x="698.16" y="725.60" font-size="22" fill="#2c2518" stroke="#2c2518" stroke-width="0.35" textLength="27.35" lengthAdjust="spacingAndGlyphs" >Hz</text>
<text x="544.64" y="749.40" font-size="22" fill="#2c2518" stroke="#2c2518" stroke-width="0.35" textLength="129.06" lengthAdjust="spacingAndGlyphs" >after Benade</text>
<path d="M660.4 696 L660.4 700" stroke="#1a140c" stroke-width="1.8"/>
</svg>
</body></html>
